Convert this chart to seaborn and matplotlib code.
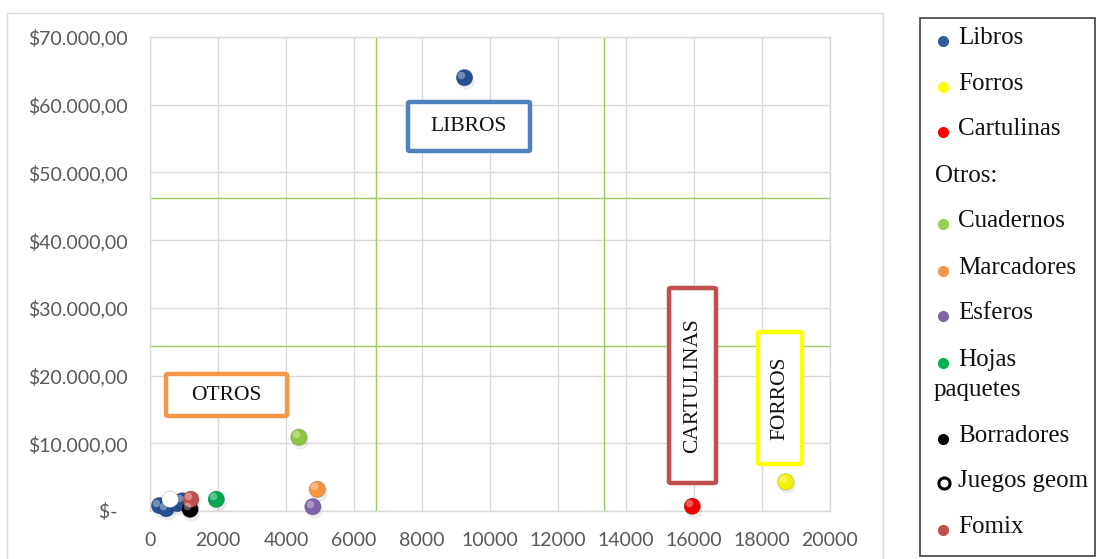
import matplotlib
matplotlib.use("Agg")
import matplotlib.pyplot as plt
from matplotlib.patches import Rectangle, FancyBboxPatch
from matplotlib.ticker import FuncFormatter, MultipleLocator
import seaborn as sns
import pandas as pd

# Units sold vs. sales value per product line
categories = ["Libros", "Libros", "Libros", "Libros", "Libros",
              "Forros", "Cartulinas", "Cuadernos", "Marcadores", "Esferos",
              "Hojas paquetes", "Borradores", "Juegos geom", "Fomix"]
units = [9250, 280, 480, 800, 950,
         18700, 15950, 4380, 4920, 4790,
         1950, 1180, 590, 1200]
sales = [64000, 800, 350, 1100, 1500,
         4300, 700, 10900, 3200, 640,
         1730, 250, 1730, 1730]

colors = {
    "Libros": "#24508f",
    "Forros": "#f2f200",
    "Cartulinas": "#ee0000",
    "Cuadernos": "#8cc63e",
    "Marcadores": "#f7923e",
    "Esferos": "#8062a8",
    "Hojas paquetes": "#00a84f",
    "Borradores": "#000000",
    "Juegos geom": "#ffffff",
    "Fomix": "#c0504d",
}

# Division lines splitting the plane into thirds
x_cuts = [6650, 13350]
y_cuts = [24300, 46250]

# Legend rows: (label, colour or None for a plain heading)
legend_rows = [("Libros", "#2f5d9a"), ("Forros", "#ffff00"), ("Cartulinas", "#ff0000"),
               ("Otros:", None), ("Cuadernos", "#92d050"), ("Marcadores", "#f79646"),
               ("Esferos", "#8064a2"), ("Hojas\npaquetes", "#00b050"),
               ("Borradores", "#000000"), ("Juegos geom", "open"), ("Fomix", "#c0504d")]

df = pd.DataFrame({"categoria": categories, "unidades": units, "ventas": sales})

sns.set_theme(style="white")
plt.rcParams["font.family"] = ["Lato", "DejaVu Sans"]

W, H = 1100, 559
fig = plt.figure(figsize=(W / 100, H / 100), dpi=100)

def fx(px):
    return px / W

def fy(py):
    return 1 - py / H

# Outer chart frame
fig.patches.append(Rectangle((fx(7), fy(575)), fx(883 - 7), (575 - 13) / H,
                             transform=fig.transFigure, fill=False,
                             edgecolor="#d9d9d9", linewidth=1.0))

ax = fig.add_axes([fx(150), fy(511), fx(830 - 150), (511 - 37) / H])
ax.set_xlim(0, 20000)
ax.set_ylim(0, 70000)
ax.xaxis.set_major_locator(MultipleLocator(2000))
ax.yaxis.set_major_locator(MultipleLocator(10000))
ax.grid(True, color="#d9d9d9", linewidth=1.0)
ax.set_axisbelow(True)
for s in ax.spines.values():
    s.set_color("#d9d9d9")
    s.set_linewidth(1.0)

def money(v, _):
    if v == 0:
        return "$-  "
    return "$" + f"{int(v):,}".replace(",", ".") + ",00"

ax.yaxis.set_major_formatter(FuncFormatter(money))
ax.tick_params(axis="both", labelsize=14, colors="#595959", length=0)
ax.tick_params(axis="x", pad=15)
ax.tick_params(axis="y", pad=16)

for xc in x_cuts:
    ax.axvline(xc, color="#9bcb5e", linewidth=1.0, zorder=1.5)
for yc in y_cuts:
    ax.axhline(yc, color="#9bcb5e", linewidth=1.0, zorder=1.5)

# Soft drop shadows under the spheres
shadow = ax.scatter(df["unidades"] + 40, df["ventas"] - 500, s=140, color="#000000",
                    alpha=0.07, linewidth=0, zorder=2)
shadow.set_clip_on(False)

sns.scatterplot(data=df, x="unidades", y="ventas", hue="categoria",
                palette=colors, s=140, edgecolor="#00000030", linewidth=0.6,
                legend=False, ax=ax, zorder=3)
for coll in ax.collections:
    coll.set_clip_on(False)

# Specular highlights
hl = ax.scatter(df["unidades"] - 90, df["ventas"] + 450, s=30, color="#ffffff",
                alpha=0.35, linewidth=0, zorder=4)
hl.set_clip_on(False)
ax.set_xlabel("")
ax.set_ylabel("")

# Annotated group boxes
def group_box(x0, y0, x1, y1, color, text, rotation=0):
    r = FancyBboxPatch((fx(x0), fy(y1)), fx(x1 - x0), (y1 - y0) / H,
                       boxstyle="round,pad=0,rounding_size=0.002",
                       transform=fig.transFigure, facecolor="white",
                       edgecolor=color, linewidth=3.2, zorder=5)
    fig.patches.append(r)
    fig.text(fx((x0 + x1) / 2), fy((y0 + y1) / 2), text, rotation=rotation,
             ha="center", va="center", fontsize=15.5,
             family=["Liberation Serif", "DejaVu Serif"], color="#111111", zorder=6)

group_box(408, 102, 530, 151, "#4f81bd", "LIBROS")
group_box(166, 374, 287, 416, "#f79646", "OTROS")
group_box(669, 288, 716, 483, "#c0504d", "CARTULINAS", rotation=90)
group_box(758, 332, 802, 464, "#ffff00", "FORROS", rotation=90)

# Legend panel
fig.patches.append(Rectangle((fx(920), fy(556)), fx(1095 - 920), (556 - 18) / H,
                             transform=fig.transFigure, fill=False,
                             edgecolor="#404040", linewidth=1.2))
legend_y = [38, 84, 129, 176, 221, 268, 313, 360, 436, 481, 527]
serif = ["Liberation Serif", "DejaVu Serif"]
fs = 18
for (label, col), y in zip(legend_rows, legend_y):
    if col is None:
        fig.text(fx(935), fy(y), label, ha="left", va="center", fontsize=fs,
                 family=serif, color="#111111")
        continue
    if label.startswith("Hojas"):
        first, second = label.split("\n")
        fig.text(fx(958), fy(y), first, ha="left", va="center", fontsize=fs,
                 family=serif, color="#111111")
        fig.text(fx(934), fy(y + 30), second, ha="left", va="center", fontsize=fs,
                 family=serif, color="#111111")
    else:
        fig.text(fx(958), fy(y), label, ha="left", va="center", fontsize=fs,
                 family=serif, color="#111111")
    if col == "open":
        fig.lines.append(plt.Line2D([fx(944)], [fy(y + 2)], marker="o", markersize=8,
                                    markerfacecolor="white", markeredgecolor="black",
                                    markeredgewidth=2.2, transform=fig.transFigure))
    else:
        fig.lines.append(plt.Line2D([fx(943)], [fy(y + 3)], marker="o", markersize=7,
                                    markerfacecolor=col, markeredgecolor=col,
                                    transform=fig.transFigure))

fig.savefig("out.png", dpi=100, facecolor="white")
